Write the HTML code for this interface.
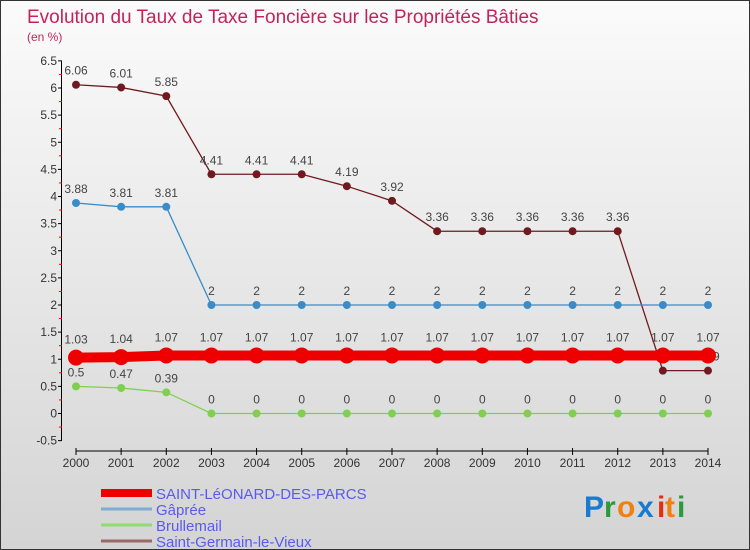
<!DOCTYPE html>
<html><head><meta charset="utf-8"><style>
body{margin:0;}
#wrap{position:relative;width:750px;height:550px;background:linear-gradient(#fbfbfb,#d4d4d4);font-family:"Liberation Sans",sans-serif;overflow:hidden;box-sizing:border-box;border:1px solid #333;}
svg text{font-family:"Liberation Sans",sans-serif;}
</style></head><body>
<div id="wrap">
<svg id="chart" width="750" height="550">
<text x="26" y="22" font-size="19" fill="#c2245a">Evolution du Taux de Taxe Foncière sur les Propriétés Bâties</text>
<text x="26" y="40" font-size="12" fill="#c2245a">(en %)</text>
<g id="axes"></g><g id="series"></g><g id="legend"></g>
<g font-size="30" font-weight="bold">
<text x="583" y="516" fill="#1a7ad0">P</text><text x="603" y="516" fill="#2a9a3a">r</text><text x="616" y="516" fill="#f08010">o</text><text x="636" y="516" fill="#1a7ad0">x</text><text x="656" y="516" fill="#e03010">i</text><text x="664" y="516" fill="#f08010">t</text><text x="676" y="516" fill="#2a9a3a">i</text>
</g>
</svg>
</div>
<script>
const years=[2000,2001,2002,2003,2004,2005,2006,2007,2008,2009,2010,2011,2012,2013,2014];
const saintLeonard=[1.03,1.04,1.07,1.07,1.07,1.07,1.07,1.07,1.07,1.07,1.07,1.07,1.07,1.07,1.07];
const gapree=[3.88,3.81,3.81,2,2,2,2,2,2,2,2,2,2,2,2];
const brullemail=[0.5,0.47,0.39,0,0,0,0,0,0,0,0,0,0,0,0];
const saintGermain=[6.06,6.01,5.85,4.41,4.41,4.41,4.19,3.92,3.36,3.36,3.36,3.36,3.36,0.79,0.79];
const yTicks=[-0.5,0,0.5,1,1.5,2,2.5,3,3.5,4,4.5,5,5.5,6,6.5];
const NS="http://www.w3.org/2000/svg";
const x=i=>75+i*(632/14);
const y=v=>412.5-v*54.25;
function mk(tag,at,parent,txt){const e=document.createElementNS(NS,tag);for(const k in at)e.setAttribute(k,at[k]);if(txt!==undefined)e.textContent=txt;parent.appendChild(e);return e;}
const axes=document.getElementById('axes');
let e=mk('line',{x1:60.5,y1:y(6.5),x2:60.5,y2:y(-0.5),stroke:'#000'},axes);

yTicks.forEach((t,i)=>{
  mk('line',{x1:57,x2:61,y1:y(t),y2:y(t),stroke:'#000'},axes);
  if(i<yTicks.length-1)mk('line',{x1:58,x2:61,y1:y(t+0.25),y2:y(t+0.25),stroke:'#f00'},axes);
  const l=mk('text',{x:56,y:y(t)+4,'font-size':12,'text-anchor':'end',fill:'#333'},axes,String(t));
  
});
e=mk('line',{x1:x(0),y1:450,x2:x(14),y2:450,stroke:'#000'},axes);

years.forEach((yr,i)=>{
  mk('line',{x1:x(i),x2:x(i),y1:447,y2:454,stroke:'#000'},axes);
  const l=mk('text',{x:x(i),y:466,'font-size':12,'text-anchor':'middle',fill:'#333'},axes,String(yr));
  
});
const series=[
 {name:'saint-germain',data:saintGermain,color:'#6e1a1f',w:1.3,r:4},
 {name:'gapree',data:gapree,color:'#3a8cc8',w:1.3,r:4},
 {name:'brullemail',data:brullemail,color:'#7fd050',w:1.3,r:4},
 {name:'saint-leonard',data:saintLeonard,color:'#ee0000',w:10,r:8},
];
const sg=document.getElementById('series');
series.forEach(s=>{
  const g=mk('g',{},sg);
  
  const p=mk('polyline',{points:s.data.map((v,i)=>x(i)+','+y(v)).join(' '),fill:'none',stroke:s.color,'stroke-width':s.w},g);
  
  s.data.forEach((v,i)=>{
    const c=mk('circle',{cx:x(i),cy:y(v),r:s.r,fill:s.color},g);
    
    const t=mk('text',{x:x(i),y:y(v)-(s.r+6),'font-size':12,'text-anchor':'middle',fill:'#444'},g,String(v));
    
  });
});
const lg=document.getElementById('legend');
const legendItems=[['SAINT-LéONARD-DES-PARCS','#ee0000',8],['Gâprée','#80acd0',3],['Brullemail','#90dc70',3],['Saint-Germain-le-Vieux','#9a6a6a',3]];
legendItems.forEach((it,i)=>{
  const yy=492+i*16;
  const g=mk('g',{},lg);
  
  mk('line',{x1:100,x2:151,y1:yy,y2:yy,stroke:it[1],'stroke-width':it[2]},g);
  mk('text',{x:155,y:yy+6,'font-size':15,fill:'#5a5af0'},g,it[0]);
});
</script>
</body></html>
